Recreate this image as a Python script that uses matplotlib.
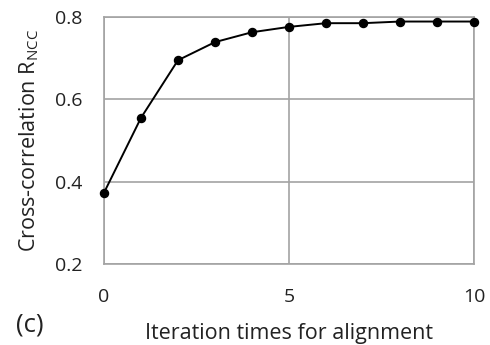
import matplotlib
matplotlib.use("Agg")
import matplotlib.pyplot as plt

# Alignment iterations and the normalized cross-correlation after each one
iterations = [0, 1, 2, 3, 4, 5, 6, 7, 8, 9, 10]
r_ncc = [0.373, 0.555, 0.695, 0.739, 0.763, 0.776, 0.785, 0.785, 0.789, 0.789, 0.789]

x_ticks = [0, 5, 10]
y_ticks = [0.2, 0.4, 0.6, 0.8]

plt.rcParams['font.family'] = ['Open Sans', 'DejaVu Sans']

fig = plt.figure(figsize=(4.9, 3.45), dpi=100)
ax = fig.add_axes([0.2122, 0.2348, 0.7551, 0.7159])

ax.plot(iterations, r_ncc, color='black', linewidth=1.4, marker='o',
        markersize=5.8, zorder=3, clip_on=False)

ax.set_xlim(0, 10)
ax.set_ylim(0.2, 0.8)
ax.set_xticks(x_ticks)
ax.set_yticks(y_ticks)
ax.set_yticklabels([f"{v:.1f}" for v in y_ticks])
ax.grid(True, color='#a3a3a3', linewidth=1.2)
ax.set_axisbelow(True)
for s in ax.spines.values():
    s.set_color('#a3a3a3')
    s.set_linewidth(1.2)

ax.tick_params(axis='both', length=0, labelsize=14, labelcolor='#222222')
ax.tick_params(axis='x', pad=17)
ax.tick_params(axis='y', pad=15.5)

ax.set_xlabel('Iteration times for alignment', fontsize=15.5, color='#222222', labelpad=12.5)
ax.set_ylabel(r'Cross-correlation R$_{\mathregular{NCC}}$', fontsize=15.5, color='#222222', labelpad=10)

fig.text(0.033, 0.04, '(c)', fontsize=18.5, color='#222222')

fig.savefig('out.png', dpi=100)
